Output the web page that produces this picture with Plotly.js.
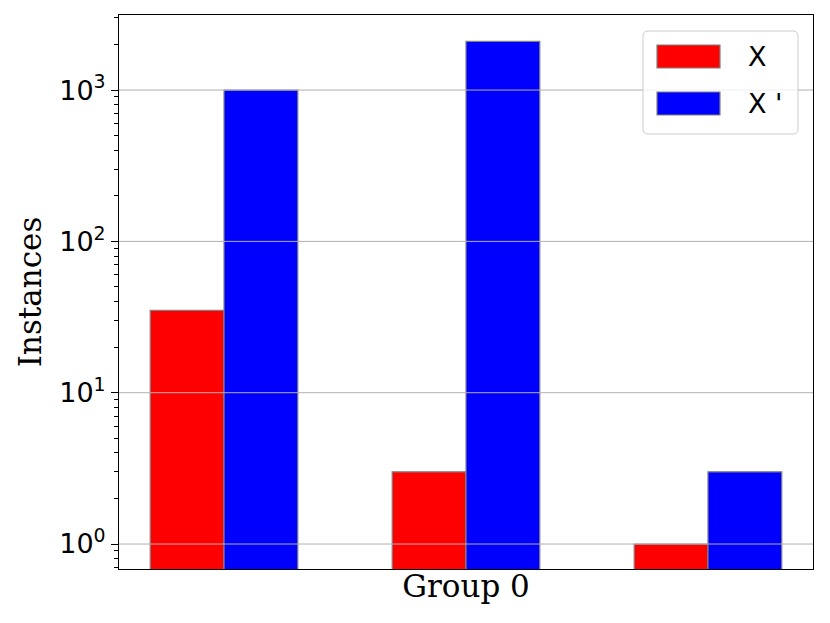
<!DOCTYPE html>
<html>
<head>
<meta charset="utf-8">
<script src="https://cdn.plot.ly/plotly-3.0.1.min.js"></script>
<style>
  html, body { margin: 0; padding: 0; background: #fff; }
  #chart { width: 830px; height: 623px; }
</style>
</head>
<body>
<div id="chart"></div>
<script>
var groups = ['A', 'B', 'C'];
var seriesNames = ['X', "X '"];
var valuesX = [35, 3, 1];
var valuesXp = [1000, 2100, 3];
var seriesColors = ['#ff0000', '#0000ff'];

var tickVals = [1, 10, 100, 1000];
var tickText = ['10<sup>0</sup>', '10<sup>1</sup>', '10<sup>2</sup>', '10<sup>3</sup>'];

var SANS = 'DejaVu Sans, sans-serif';
var SERIF = 'DejaVu Serif, serif';

var traces = [valuesX, valuesXp].map(function(vals, i) {
  return {
    x: groups,
    y: vals,
    name: seriesNames[i],
    type: 'bar',
    marker: { color: seriesColors[i], line: { color: '#808080', width: 1.2 } },
    showlegend: false
  };
});

// gridlines drawn above the bars, as in the reference
var shapes = tickVals.map(function(v) {
  return {
    type: 'line', xref: 'paper', yref: 'y',
    x0: 0, x1: 1, y0: v, y1: v,
    line: { color: '#b0b0b0', width: 1 },
    layer: 'above'
  };
});

// hand-made legend box with long swatches
var PW = 694, PH = 554;
function px(x) { return (x - 119) / PW; }
function py(y) { return 1 - (y - 15) / PH; }
function roundRect(x0, y0, x1, y1, r) {
  var rx = r / PW, ry = r / PH;
  var a = px(x0), b = px(x1), t = py(y0), u = py(y1);
  return 'M' + (a + rx) + ',' + t + ' L' + (b - rx) + ',' + t +
    ' Q' + b + ',' + t + ' ' + b + ',' + (t - ry) +
    ' L' + b + ',' + (u + ry) + ' Q' + b + ',' + u + ' ' + (b - rx) + ',' + u +
    ' L' + (a + rx) + ',' + u + ' Q' + a + ',' + u + ' ' + a + ',' + (u + ry) +
    ' L' + a + ',' + (t - ry) + ' Q' + a + ',' + t + ' ' + (a + rx) + ',' + t + ' Z';
}
shapes.push({
  type: 'path', xref: 'paper', yref: 'paper', layer: 'above',
  path: roundRect(643, 31, 798, 134, 5),
  fillcolor: 'rgba(255,255,255,0.8)',
  line: { color: '#cccccc', width: 1 }
});
var annotations = [];
[[45, 68], [92, 115]].forEach(function(r, i) {
  shapes.push({
    type: 'rect', xref: 'paper', yref: 'paper', layer: 'above',
    x0: px(657), x1: px(720), y0: py(r[0]), y1: py(r[1]),
    fillcolor: seriesColors[i],
    line: { color: '#808080', width: 1.2 }
  });
  annotations.push({
    xref: 'paper', yref: 'paper', x: px(746), y: py((r[0] + r[1]) / 2),
    xanchor: 'left', yanchor: 'middle', showarrow: false,
    text: seriesNames[i],
    font: { family: SANS, size: 27, color: '#000' }
  });
});

var layout = {
  width: 830,
  height: 623,
  paper_bgcolor: '#fff',
  plot_bgcolor: '#fff',
  margin: { t: 15, r: 17, b: 54, l: 119 },
  barmode: 'group',
  bargap: 0.39,
  bargroupgap: 0,
  showlegend: false,
  xaxis: {
    type: 'category',
    range: [-0.434, 2.434],
    showticklabels: false,
    ticks: '',
    showgrid: false,
    showline: true, mirror: true, linecolor: '#000', linewidth: 1,
    title: { text: 'Group 0', font: { family: SERIF, size: 31, color: '#000' }, standoff: 6 }
  },
  yaxis: {
    type: 'log',
    range: [-0.165, 3.496],
    tickmode: 'array',
    tickvals: tickVals,
    ticktext: tickText,
    ticks: 'outside', ticklen: 7, tickwidth: 1, tickcolor: '#000',
    tickfont: { family: SANS, size: 27, color: '#000' },
    showgrid: false,
    zeroline: false,
    showline: true, mirror: true, linecolor: '#000', linewidth: 1,
    minor: { ticks: 'outside', ticklen: 4, tickwidth: 1, tickcolor: '#000', dtick: 'D1', showgrid: false },
    title: { text: 'Instances', font: { family: SERIF, size: 31, color: '#000' }, standoff: 8 }
  },
  shapes: shapes,
  annotations: annotations
};

Plotly.newPlot('chart', traces, layout, { displayModeBar: false, staticPlot: true });
</script>
</body>
</html>
